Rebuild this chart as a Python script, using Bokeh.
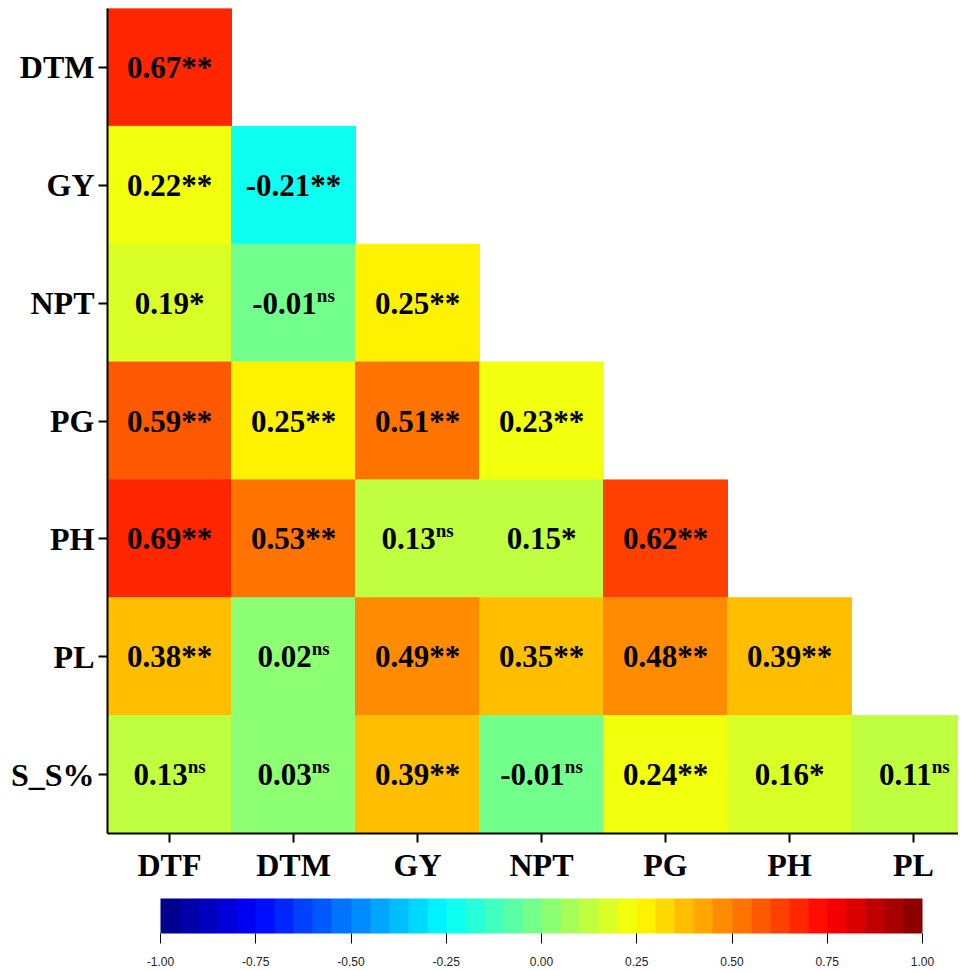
import numpy as np
from bokeh.plotting import figure
from bokeh.models import (ColumnDataSource, Range1d, FixedTicker, ColorBar,
                          LinearColorMapper, PrintfTickFormatter, Title)
from bokeh.transform import linear_cmap
from bokeh.core.properties import value
from bokeh.embed import file_html
from bokeh.resources import INLINE

# ---------------- data ----------------
row_labels = ["DTM", "GY", "NPT", "PG", "PH", "PL", "S_S%"]
col_labels = ["DTF", "DTM", "GY", "NPT", "PG", "PH", "PL"]

r_DTM = [0.67]
r_GY = [0.22, -0.21]
r_NPT = [0.19, -0.01, 0.25]
r_PG = [0.59, 0.25, 0.51, 0.23]
r_PH = [0.69, 0.53, 0.13, 0.15, 0.62]
r_PL = [0.38, 0.02, 0.49, 0.35, 0.48, 0.39]
r_SS = [0.13, 0.03, 0.39, -0.01, 0.24, 0.16, 0.11]

s_DTM = ["**"]
s_GY = ["**", "**"]
s_NPT = ["*", "ns", "**"]
s_PG = ["**", "**", "**", "**"]
s_PH = ["**", "**", "ns", "*", "**"]
s_PL = ["**", "ns", "**", "**", "**", "**"]
s_SS = ["ns", "ns", "**", "ns", "**", "*", "ns"]

cbar_ticks = [-1.0, -0.75, -0.5, -0.25, 0.0, 0.25, 0.5, 0.75, 1.0]

row_values = [r_DTM, r_GY, r_NPT, r_PG, r_PH, r_PL, r_SS]
row_sigs = [s_DTM, s_GY, s_NPT, s_PG, s_PH, s_PL, s_SS]

# ---------------- palette (jet, 40 steps) ----------------
N = 40
t = (np.arange(N) + 0.5) / N
def _ch(c):
    return np.clip(1.5 - np.abs(4 * t - c), 0, 1)
palette = ["#%02x%02x%02x" % (int(round(r * 255)), int(round(g * 255)), int(round(b * 255)))
           for r, g, b in zip(_ch(3), _ch(2), _ch(1))]

# ---------------- table ----------------
FS = 31      # main label font size px
FS_NS = 19   # superscript font size px
xs, ys, vs, mains, sufs, offs, kinds = [], [], [], [], [], [], []
for i, (vals, sigs) in enumerate(zip(row_values, row_sigs)):
    for j, (v, s) in enumerate(zip(vals, sigs)):
        txt = "%.2f" % v
        w_main = FS * (0.5 * 3 + 0.25 + (0.333 if v < 0 else 0))
        if s == "ns":
            w_suf = FS_NS * 0.945
        else:
            w_suf = FS * 0.5 * len(s)
        xs.append(j)
        ys.append(i)
        vs.append(v)
        mains.append(txt)
        sufs.append(s)
        offs.append((w_main - w_suf) / 2.0)
        kinds.append(s)

src = ColumnDataSource(dict(x=xs, y=ys, v=vs, main=mains, suf=sufs, off=offs))
star_idx = [k for k, s in enumerate(kinds) if s != "ns"]
ns_idx = [k for k, s in enumerate(kinds) if s == "ns"]
src_star = ColumnDataSource({k: [src.data[k][n] for n in star_idx] for k in src.data})
src_ns = ColumnDataSource({k: [src.data[k][n] for n in ns_idx] for k in src.data})

# ---------------- figure ----------------
CELL_W = 124
FRAME_W = 851
p = figure(frame_width=FRAME_W, frame_height=825,
           x_range=Range1d(-0.5, -0.5 + FRAME_W / CELL_W),
           y_range=Range1d(len(row_labels) - 0.5, -0.5),
           output_backend="svg", toolbar_location=None,
           min_border_left=107, min_border_right=0, min_border_top=8, min_border_bottom=0)

cmap = linear_cmap("v", palette, -1, 1)
p.rect(x="x", y="y", width=1, height=1, source=src,
       fill_color=cmap, line_color=cmap, line_width=1)

serif = value("Liberation Serif")
p.text(x="x", y="y", text="main", source=src, x_offset="off",
       text_align="right", text_baseline="middle", text_font=serif,
       text_font_style="bold", text_font_size="%dpx" % FS, text_color="black")
p.text(x="x", y="y", text="suf", source=src_star, x_offset="off",
       text_align="left", text_baseline="middle", text_font=serif,
       text_font_style="bold", text_font_size="%dpx" % FS, text_color="black")
p.text(x="x", y="y", text="suf", source=src_ns, x_offset="off", y_offset=-8,
       text_align="left", text_baseline="middle", text_font=serif,
       text_font_style="bold", text_font_size="%dpx" % FS_NS, text_color="black")

p.xaxis.ticker = FixedTicker(ticks=list(range(len(col_labels))))
p.xaxis.major_label_overrides = {i: c for i, c in enumerate(col_labels)}
p.yaxis.ticker = FixedTicker(ticks=list(range(len(row_labels))))
p.yaxis.major_label_overrides = {i: r for i, r in enumerate(row_labels)}

for ax in (p.xaxis, p.yaxis):
    ax.axis_line_width = 2
    ax.axis_line_color = "black"
    ax.major_tick_line_width = 2
    ax.major_tick_line_color = "black"
    ax.major_tick_out = 9
    ax.major_tick_in = 0
    ax.minor_tick_line_color = None
    ax.major_label_text_font = "Liberation Serif"
    ax.major_label_text_font_style = "bold"
    ax.major_label_text_font_size = "32px"
    ax.major_label_text_color = "black"
    ax.major_label_standoff = 4

p.xgrid.grid_line_color = None
p.ygrid.grid_line_color = None
p.outline_line_color = None

# invisible spacer between the x axis and the colour bar
p.add_layout(Title(text=" ", text_font_size="10px", standoff=0, offset=0), "below")

mapper = LinearColorMapper(palette=palette, low=-1, high=1)
cb = ColorBar(color_mapper=mapper, orientation="horizontal", width=762, height=35,
              ticker=FixedTicker(ticks=cbar_ticks),
              formatter=PrintfTickFormatter(format="%.2f"),
              major_label_text_font="Liberation Sans",
              major_label_text_font_size="12px",
              major_label_text_color="#222222",
              major_tick_out=10, major_tick_in=0,
              major_tick_line_color="black", major_tick_line_width=1,
              minor_tick_line_color=None,
              bar_line_color=None, border_line_color=None,
              background_fill_color=None,
              label_standoff=13, padding=0, margin=0,
              location=(53, 0))
p.add_layout(cb, "below")

open("out.html", "w").write(file_html(p, INLINE))
